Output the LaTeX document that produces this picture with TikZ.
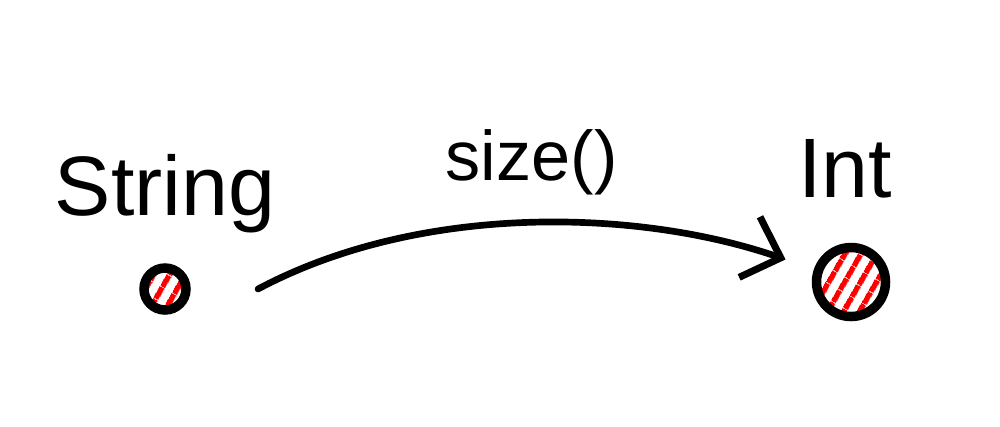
\documentclass[tikz,border=0pt]{standalone}
\usepackage{fontspec}
\setmainfont{Liberation Sans}
\usetikzlibrary{positioning, arrows.meta, patterns.meta}

\begin{document}
\begin{tikzpicture}[node distance=3mm,
    typedot/.style={draw, circle, line width=2.7pt, inner sep=0pt,
      pattern={Lines[angle=60, distance=1.4mm, line width=0.6mm]}, pattern color=red},
    lbl/.style={inner sep=0pt, font=\fontsize{24}{28}\selectfont}]
  \useasboundingbox (0,0) rectangle (10,4.26);
  \node[typedot, minimum size=4.2mm] (str) at (1.65,1.37) {};
  \node[typedot, minimum size=6.9mm] (int) at (8.51,1.44) {};
  \node[lbl, above=3.1mm of str] (strlbl) {String};
  \node[lbl, above=4.4mm of int, xshift=-0.6mm] (intlbl) {Int};
  \draw[line width=1.9pt, line cap=round,
        -{Straight Barb[length=3.3mm, width=6.4mm, line width=2pt]}, shorten >=3mm]
    ([xshift=9.3mm]str.center) to[out=28, in=161, looseness=0.85]
    node[midway, above=1.4mm, font=\fontsize{20}{24}\selectfont] (sizelbl) {size()} (int);
\end{tikzpicture}
\end{document}
